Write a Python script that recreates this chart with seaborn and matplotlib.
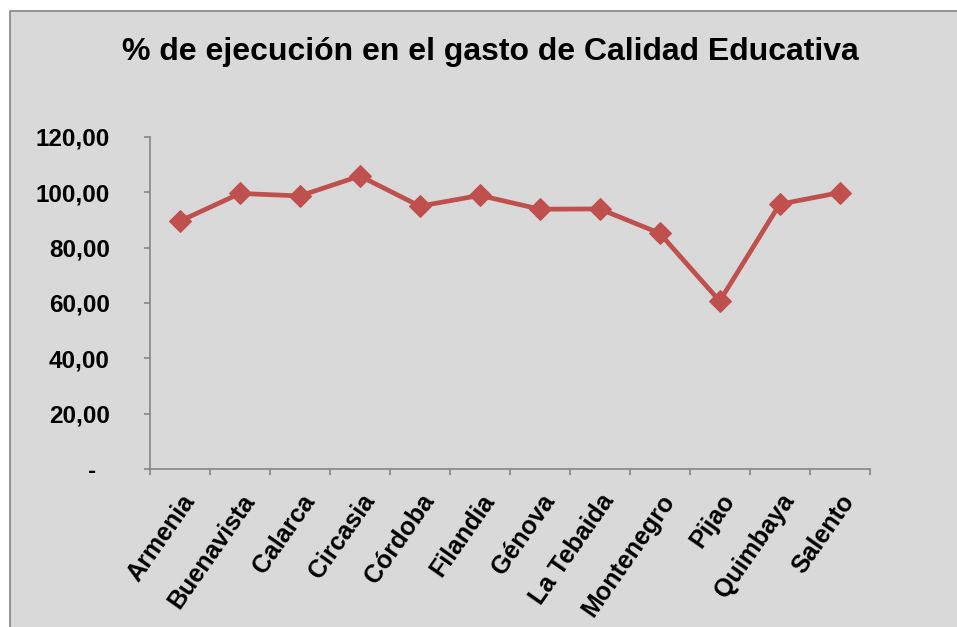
import numpy as np
import pandas as pd
import matplotlib
matplotlib.use("Agg")
import matplotlib.pyplot as plt
import matplotlib.patches as patches
import matplotlib.transforms as mtransforms
import seaborn as sns

# data
municipios = ["Armenia", "Buenavista", "Calarca", "Circasia", "Córdoba", "Filandia",
              "Génova", "La Tebaida", "Montenegro", "Pijao", "Quimbaya", "Salento"]
ejecucion = [89.6, 99.6, 98.7, 105.9, 95.0, 98.9, 93.9, 94.0, 85.2, 60.7, 95.7, 99.9]
y_ticks = [0, 20, 40, 60, 80, 100, 120]
y_labels = ["-  ", "20,00", "40,00", "60,00", "80,00", "100,00", "120,00"]

df = pd.DataFrame({"pos": np.arange(len(municipios)), "municipio": municipios, "valor": ejecucion})

sns.set_style("white")
plt.rcParams["font.family"] = ["Liberation Sans", "DejaVu Sans"]

fig = plt.figure(figsize=(9.57, 6.27), dpi=100)
fig.patch.set_facecolor("white")

# grey chart-area box like the spreadsheet export
bg = patches.Rectangle((0.0104, -0.05), 1.05, 0.982 + 0.05, transform=fig.transFigure,
                       facecolor="#D9D9D9", edgecolor="#868686", linewidth=1.2, zorder=-10)
fig.patches.append(bg)

ax = fig.add_axes([0.1567, 0.252, 0.752, 0.5295])
ax.set_facecolor("none")

sns.lineplot(data=df, x="pos", y="valor", ax=ax, color="#C0504D", linewidth=3.4,
             marker="D", markersize=11, markeredgecolor="#C0504D")

ax.set_xlim(-0.5, len(municipios) - 0.5)
ax.set_ylim(0, 120)
ax.set_yticks(y_ticks)
ax.set_yticklabels(y_labels, fontsize=17.5, fontweight="bold", color="black")
ax.set_xticks(np.arange(len(municipios)))
ax.set_xticklabels(municipios, rotation=55, ha="right", rotation_mode="anchor",
                   fontsize=18, fontweight="bold", color="black")
# nudge the rotated labels a little to the left
shift = mtransforms.ScaledTranslation(-5 / 100, 0, fig.dpi_scale_trans)
for lbl in ax.get_xticklabels():
    lbl.set_transform(lbl.get_transform() + shift)
ax.set_xticks(np.arange(len(municipios) + 1) - 0.5, minor=True)
ax.tick_params(axis="x", which="major", bottom=True, length=0, pad=15)
ax.tick_params(axis="x", which="minor", bottom=True, length=4, width=1.2, color="#868686", direction="out")
ax.tick_params(axis="y", left=True, length=4, width=1.2, color="#868686", direction="out", pad=25)
for lbl in ax.get_yticklabels():
    lbl.set_horizontalalignment("right")

for s in ["top", "right"]:
    ax.spines[s].set_visible(False)
for s in ["left", "bottom"]:
    ax.spines[s].set_color("#868686")
    ax.spines[s].set_linewidth(1.2)

ax.set_xlabel("")
ax.set_ylabel("")

fig.text(0.512, 0.917, "% de ejecución en el gasto de Calidad Educativa",
         ha="center", va="center", fontsize=23, fontweight="bold", color="black")

fig.savefig("out.png", dpi=100, facecolor=fig.get_facecolor())
